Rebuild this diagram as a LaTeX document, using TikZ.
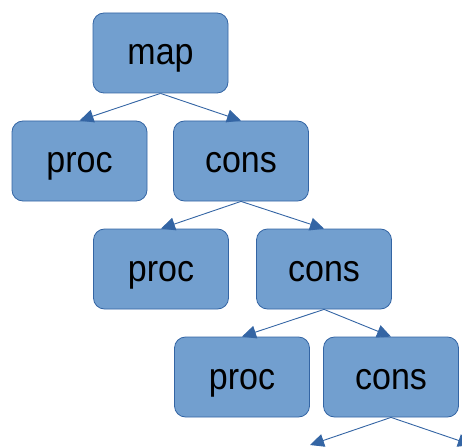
\documentclass[tikz,border=0pt]{standalone}
\usepackage{fontspec}
\setmainfont{Liberation Sans}
\usetikzlibrary{arrows.meta}
\definecolor{boxfill}{HTML}{729FCF}
\definecolor{boxline}{HTML}{3465A4}
\newcommand{\boxtxt}[1]{\scalebox{1}[1.1]{#1}}
\begin{document}
\begin{tikzpicture}[x=1pt,y=-1pt,
  box/.style={draw=boxline, fill=boxfill, rounded corners=11pt, minimum width=135pt, minimum height=80pt, inner sep=0pt, text height=24pt, text depth=0pt, font=\fontsize{34}{34}\selectfont, line width=0.8pt},
  link/.style={draw=boxline, line width=0.9pt, -{Triangle[length=14pt,width=13pt]}}]
\useasboundingbox (0,0) rectangle (462,446);
\clip (0,0) rectangle (462,446);
\node[box] (map) at (160.5,53) {\boxtxt{map}};
\node[box] (p1) at (79.5,161) {\boxtxt{proc}};
\node[box] (c1) at (241,161) {\boxtxt{cons}};
\node[box] (p2) at (161,269) {\boxtxt{proc}};
\node[box] (c2) at (324,269) {\boxtxt{cons}};
\node[box] (p3) at (242,377) {\boxtxt{proc}};
\node[box] (c3) at (391,377) {\boxtxt{cons}};
\coordinate (p4) at (310,445);
\coordinate (c4) at (472,445);
\draw[link] (map.south) -- (p1.north);
\draw[link] (map.south) -- (c1.north);
\draw[link] (c1.south) -- (p2.north);
\draw[link] (c1.south) -- (c2.north);
\draw[link] (c2.south) -- (p3.north);
\draw[link] (c2.south) -- (c3.north);
\draw[link] (c3.south) -- (p4);
\draw[link] (c3.south) -- (c4);
\end{tikzpicture}
\end{document}
